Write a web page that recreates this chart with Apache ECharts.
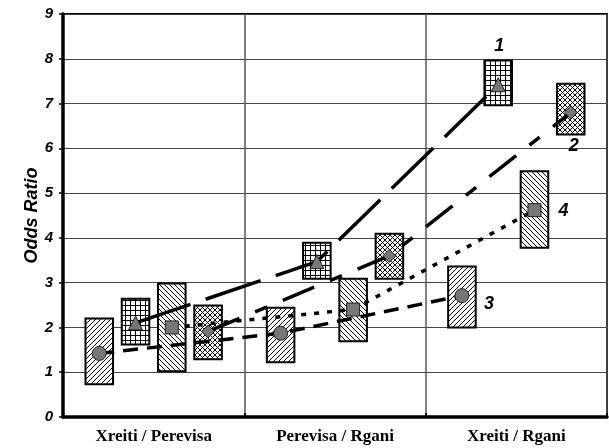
<!DOCTYPE html>
<html>
<head>
<meta charset="utf-8">
<script src="https://cdn.jsdelivr.net/npm/echarts@6/dist/echarts.min.js"></script>
<style>
  html, body { margin: 0; padding: 0; background: #fff; }
  #chart { width: 609px; height: 448px; }
</style>
</head>
<body>
<div id="chart"></div>
<script>
// Comparison groups along the x axis
const categories = ['Xreiti / Perevisa', 'Perevisa / Rgani', 'Xreiti / Rgani'];

// Series labels drawn next to the last group
const seriesNames = ['1', '2', '3', '4'];

// Odds ratio estimates with lower / upper confidence limits
const or1 = [2.10, 3.47, 7.42];
const lo1 = [1.62, 3.09, 6.96];
const hi1 = [2.64, 3.89, 7.96];

const or2 = [1.91, 3.60, 6.80];
const lo2 = [1.29, 3.09, 6.31];
const hi2 = [2.49, 4.09, 7.44];

const or3 = [1.42, 1.87, 2.71];
const lo3 = [0.73, 1.22, 2.00];
const hi3 = [2.20, 2.44, 3.36];

const or4 = [2.00, 2.40, 4.62];
const lo4 = [1.02, 1.69, 3.78];
const hi4 = [2.98, 3.09, 5.49];

// Y axis ticks
const yMin = 0, yMax = 9, yStep = 1;

// Layout: position of each series inside its group band, box half width
const BOX_HALF = 0.076;
const OFFSETS = { s1: 0.40, s2: 0.80, s3: 0.20, s4: 0.60 };

// Hatch fills for the interval boxes
function makePattern(kind) {
  const s = 5;
  const c = document.createElement('canvas');
  c.width = s; c.height = s;
  const g = c.getContext('2d');
  g.fillStyle = '#fff';
  g.fillRect(0, 0, s, s);
  g.strokeStyle = '#000';
  g.lineWidth = 1;
  g.beginPath();
  if (kind === 'grid') {
    g.moveTo(0, 0.5); g.lineTo(s, 0.5);
    g.moveTo(0.5, 0); g.lineTo(0.5, s);
  }
  if (kind === 'fwd' || kind === 'cross') {
    g.moveTo(-1, s + 1); g.lineTo(s + 1, -1);
    g.moveTo(-1, 1); g.lineTo(1, -1);
    g.moveTo(s - 1, s + 1); g.lineTo(s + 1, s - 1);
  }
  if (kind === 'back' || kind === 'cross') {
    g.moveTo(-1, -1); g.lineTo(s + 1, s + 1);
    g.moveTo(s - 1, -1); g.lineTo(s + 1, 1);
    g.moveTo(-1, s - 1); g.lineTo(1, s + 1);
  }
  g.stroke();
  return { image: c, repeat: 'repeat' };
}

function boxSeries(offset, low, high, pattern) {
  return {
    type: 'custom',
    xAxisIndex: 1,
    yAxisIndex: 0,
    z: 2,
    silent: true,
    data: low.map((l, i) => [i + offset, l, high[i]]),
    encode: { x: 0, y: [1, 2] },
    renderItem: function (params, api) {
      const x = api.value(0);
      const p1 = api.coord([x - BOX_HALF, api.value(2)]);
      const p2 = api.coord([x + BOX_HALF, api.value(1)]);
      return {
        type: 'rect',
        shape: { x: p1[0], y: p1[1], width: p2[0] - p1[0], height: p2[1] - p1[1] },
        style: { fill: pattern, stroke: '#000', lineWidth: 2 }
      };
    }
  };
}

const labelFont = {
  fontFamily: 'Liberation Sans, Arial, sans-serif',
  fontStyle: 'italic',
  fontWeight: 'bold',
  color: '#000'
};

function lineSeries(name, offset, values, symbol, size, dash, labelOffset) {
  return {
    type: 'line',
    name: name,
    xAxisIndex: 1,
    yAxisIndex: 0,
    z: 3,
    data: values.map((v, i) => [i + offset, v]),
    symbol: symbol,
    symbolSize: size,
    showAllSymbol: true,
    lineStyle: { color: '#000', width: 3.5, type: dash, cap: 'butt' },
    itemStyle: { color: '#777', borderColor: '#222', borderWidth: 1 },
    label: Object.assign({
      show: true,
      position: 'inside',
      offset: labelOffset,
      fontSize: 18,
      formatter: p => (p.dataIndex === values.length - 1 ? name : '')
    }, labelFont),
    emphasis: { disabled: true }
  };
}

const chart = echarts.init(document.getElementById('chart'));

chart.setOption({
  animation: false,
  backgroundColor: '#fff',
  grid: {
    left: 63, right: 2, top: 14, bottom: 31,
    show: true, borderColor: '#000', borderWidth: 2,
    backgroundColor: 'transparent'
  },
  xAxis: [
    {
      type: 'category',
      data: categories,
      position: 'bottom',
      boundaryGap: true,
      axisLine: { show: true, lineStyle: { color: '#000', width: 3.5 } },
      axisTick: { show: true, inside: true, length: 4, lineStyle: { color: '#000', width: 2 } },
      axisLabel: {
        fontFamily: 'Liberation Serif, Times New Roman, serif',
        fontWeight: 'bold',
        fontSize: 17,
        color: '#000',
        margin: 11
      },
      splitLine: { show: false }
    },
    {
      type: 'value',
      position: 'top',
      min: 0, max: categories.length, interval: 1,
      axisLine: { show: false },
      axisTick: { show: false },
      axisLabel: { show: false },
      splitLine: { show: true, lineStyle: { color: '#555', width: 1.5 } }
    }
  ],
  yAxis: {
    type: 'value',
    min: yMin, max: yMax, interval: yStep,
    name: 'Odds Ratio',
    nameLocation: 'middle',
    nameGap: 22,
    nameMoveOverlap: false,
    nameTextStyle: Object.assign({ fontSize: 18 }, labelFont),
    axisLine: { show: true, lineStyle: { color: '#000', width: 3.5 } },
    axisTick: { show: true, length: 4, lineStyle: { color: '#000', width: 1.5 } },
    axisLabel: Object.assign({ fontSize: 15, margin: 10 }, labelFont),
    splitLine: { show: true, lineStyle: { color: '#444', width: 1 } }
  },
  series: [
    boxSeries(OFFSETS.s3, lo3, hi3, makePattern('fwd')),
    boxSeries(OFFSETS.s1, lo1, hi1, makePattern('grid')),
    boxSeries(OFFSETS.s4, lo4, hi4, makePattern('back')),
    boxSeries(OFFSETS.s2, lo2, hi2, makePattern('cross')),
    lineSeries(seriesNames[0], OFFSETS.s1, or1, 'triangle', 14, [58, 16], [1, -39]),
    lineSeries(seriesNames[1], OFFSETS.s2, or2, 'diamond', 13, [34, 17, 13, 17], [3, 34]),
    lineSeries(seriesNames[2], OFFSETS.s3, or3, 'circle', 14, [15, 9], [27, 8]),
    lineSeries(seriesNames[3], OFFSETS.s4, or4, 'rect', 13, [5, 8], [29, 1])
  ]
});
</script>
</body>
</html>
